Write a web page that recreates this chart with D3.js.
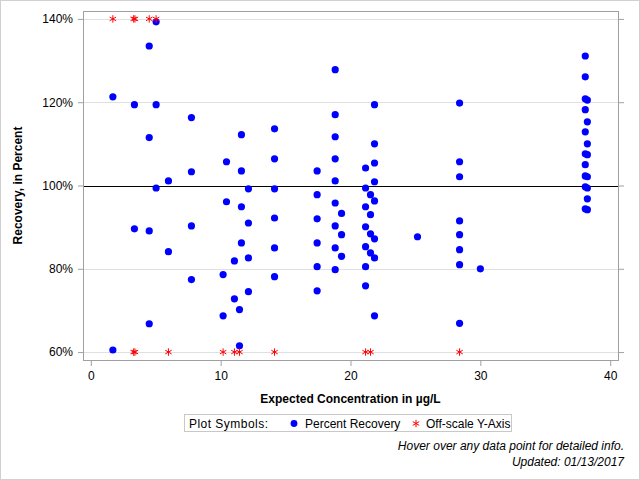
<!DOCTYPE html>
<html>
<head>
<meta charset="utf-8">
<script src="https://cdn.jsdelivr.net/npm/d3@7"></script>
<style>
  body { margin: 0; background: #fff; }
  text { font-family: Arial, "Liberation Sans", sans-serif; }
</style>
</head>
<body>
<div id="chart"></div>
<script>
// expected concentration (ug/L) and percent recovery
var recX = [1.7, 1.7, 3.36, 3.36, 4.5, 4.5, 4.5, 4.5, 5.03, 5.03, 5.03, 5.98, 5.98,
    7.75, 7.75, 7.75, 7.75, 10.19, 10.19, 10.45, 10.45, 11.06, 11.06, 11.45, 11.45,
    11.6, 11.6, 11.6, 11.6, 12.14, 12.14, 12.14, 12.14,
    14.15, 14.15, 14.15, 14.15, 14.15, 14.15,
    17.43, 17.43, 17.43, 17.43, 17.43, 17.43,
    18.82, 18.82, 18.82, 18.82, 18.82, 18.82, 18.82, 18.82, 18.82,
    19.31, 19.31, 19.31,
    21.16, 21.16, 21.16, 21.16, 21.16, 21.16, 21.16,
    21.54, 21.54, 21.54, 21.54,
    21.85, 21.85, 21.85, 21.85, 21.85, 21.85, 21.85, 21.85,
    25.16, 28.4, 28.4, 28.4, 28.4, 28.4, 28.4, 28.4, 28.4, 30.0,
    38.08, 38.08, 38.08, 38.24, 38.08, 38.24, 38.08, 38.24, 38.08, 38.24,
    38.08, 38.08, 38.24, 38.08, 38.24, 38.24, 38.08, 38.24];
var recY = [121.3, 60.5, 119.4, 89.6, 133.5, 111.5, 89.1, 66.8, 139.3, 119.4, 99.4, 101.1, 84.1,
    116.3, 103.3, 90.3, 77.4, 78.6, 68.7, 105.7, 96.1, 81.9, 72.8, 70.2, 61.5,
    112.2, 103.5, 94.9, 86.2, 99.2, 91.0, 82.6, 74.5,
    113.6, 106.4, 99.2, 92.2, 85.0, 78.1,
    103.5, 97.8, 92.0, 86.2, 80.5, 74.7,
    127.8, 117.0, 111.7, 106.4, 101.1, 95.8, 90.3, 85.0, 79.8,
    93.3, 88.2, 83.0,
    104.2, 99.4, 94.9, 90.1, 85.3, 80.5, 75.9,
    97.8, 93.0, 88.4, 83.8,
    119.4, 110.0, 105.4, 100.9, 96.3, 87.2, 82.6, 68.7,
    87.7, 119.8, 105.7, 102.1, 91.5, 88.2, 84.6, 81.0, 66.9, 80.0,
    131.1, 126.1, 120.8, 120.5, 118.2, 115.3, 112.9, 110.0, 107.6, 107.4,
    105.0, 102.3, 102.1, 99.7, 99.4, 96.8, 94.4, 94.2];

// values outside the y range, pinned to the top / bottom of the axis
var offX = [1.7, 3.3, 3.4, 4.5, 5.03, 3.3, 3.4, 5.98, 10.19, 11.06, 11.45, 14.15, 21.16, 21.54, 28.4];
var offY = [140, 140, 140, 140, 140, 60, 60, 60, 60, 60, 60, 60, 60, 60, 60];

var xTicks = [0, 10, 20, 30, 40];
var yTicks = [60, 80, 100, 120, 140];

var width = 640, height = 480;
var plotL = 83, plotR = 618, plotT = 11, plotB = 360;

var svg = d3.select('#chart')
    .append('svg')
    .attr('width', width)
    .attr('height', height);

svg.append('rect')
    .attr('x', 0.5).attr('y', 0.5)
    .attr('width', width - 1).attr('height', height - 1)
    .attr('fill', '#fff')
    .attr('stroke', '#d0d0d0');

var x = d3.scaleLinear().domain([-0.6, 40.6]).range([plotL, plotR]);
var y = d3.scaleLinear().domain([58.1, 141.9]).range([plotB, plotT]);

// grid
svg.append('g')
    .selectAll('line').data(yTicks)
    .join('line')
    .attr('x1', plotL).attr('x2', plotR)
    .attr('y1', d => Math.round(y(d)) + 0.5)
    .attr('y2', d => Math.round(y(d)) + 0.5)
    .attr('stroke', d => d == 100 ? '#000' : '#e0e0e0')
    .attr('stroke-width', 1);

// axes
var fmtPct = d => d + '%';
var yAxis = svg.append('g')
    .attr('transform', `translate(${plotL},0)`)
    .call(d3.axisLeft(y).tickValues(yTicks).tickFormat(fmtPct).tickSize(5).tickPadding(5));
var yAxisR = svg.append('g')
    .attr('transform', `translate(${plotR + 1},0)`)
    .call(d3.axisRight(y).tickValues(yTicks).tickFormat('').tickSize(5));
var xAxis = svg.append('g')
    .attr('transform', `translate(0,${plotB + 1})`)
    .call(d3.axisBottom(x).tickValues(xTicks).tickSize(5).tickPadding(5));

[yAxis, yAxisR, xAxis].forEach(function (a) {
    a.select('.domain').remove();
    a.selectAll('line').attr('stroke', '#a0a0a0');
    a.selectAll('text')
        .attr('fill', '#000')
        .style('font-size', '12px')
        .style('font-family', 'Arial, "Liberation Sans", sans-serif');
});

// plot frame
svg.append('rect')
    .attr('x', plotL + 0.5).attr('y', plotT + 0.5)
    .attr('width', plotR - plotL).attr('height', plotB - plotT)
    .attr('fill', 'none')
    .attr('stroke', '#a0a0a0');

// axis labels
svg.append('text')
    .attr('x', (plotL + plotR) / 2).attr('y', 403)
    .attr('text-anchor', 'middle')
    .style('font-size', '12px').style('font-weight', 'bold')
    .text('Expected Concentration in µg/L');

svg.append('text')
    .attr('transform', `translate(22,${(plotT + plotB) / 2}) rotate(-90)`)
    .attr('text-anchor', 'middle')
    .style('font-size', '12px').style('font-weight', 'bold')
    .text('Recovery, in Percent');

// points
var star = d3.symbol().type(d3.symbolAsterisk).size(38);

svg.append('g')
    .selectAll('circle').data(recX.map((d, i) => [d, recY[i]]))
    .join('circle')
    .attr('cx', d => x(d[0]))
    .attr('cy', d => y(d[1]))
    .attr('r', 3.6)
    .attr('fill', '#0000ff');

svg.append('g')
    .selectAll('path').data(offX.map((d, i) => [d, offY[i]]))
    .join('path')
    .attr('transform', d => `translate(${x(d[0])},${y(d[1])})`)
    .attr('d', star)
    .attr('fill', 'none')
    .attr('stroke', '#ff0000')
    .attr('stroke-width', 1);

// legend
var legend = svg.append('g');
legend.append('rect')
    .attr('x', 184.5).attr('y', 414.5)
    .attr('width', 327).attr('height', 17)
    .attr('fill', '#fff')
    .attr('stroke', '#c8c8c8');
legend.append('text')
    .attr('x', 189).attr('y', 427.5)
    .style('font-size', '12px')
    .attr('textLength', 79)
    .text('Plot Symbols:');
legend.append('circle')
    .attr('cx', 294).attr('cy', 423.5).attr('r', 3.4)
    .attr('fill', '#0000ff');
legend.append('text')
    .attr('x', 305).attr('y', 427.5)
    .style('font-size', '12px')
    .text('Percent Recovery');
legend.append('path')
    .attr('transform', 'translate(416,423.5)')
    .attr('d', star)
    .attr('fill', 'none')
    .attr('stroke', '#ff0000');
legend.append('text')
    .attr('x', 426).attr('y', 427.5)
    .style('font-size', '12px')
    .text('Off-scale Y-Axis');

// footnotes
svg.append('text')
    .attr('x', 624).attr('y', 450)
    .attr('text-anchor', 'end')
    .style('font-size', '12px').style('font-style', 'italic')
    .text('Hover over any data point for detailed info.');
svg.append('text')
    .attr('x', 624).attr('y', 466)
    .attr('text-anchor', 'end')
    .style('font-size', '12px').style('font-style', 'italic')
    .text('Updated: 01/13/2017');
</script>
</body>
</html>
